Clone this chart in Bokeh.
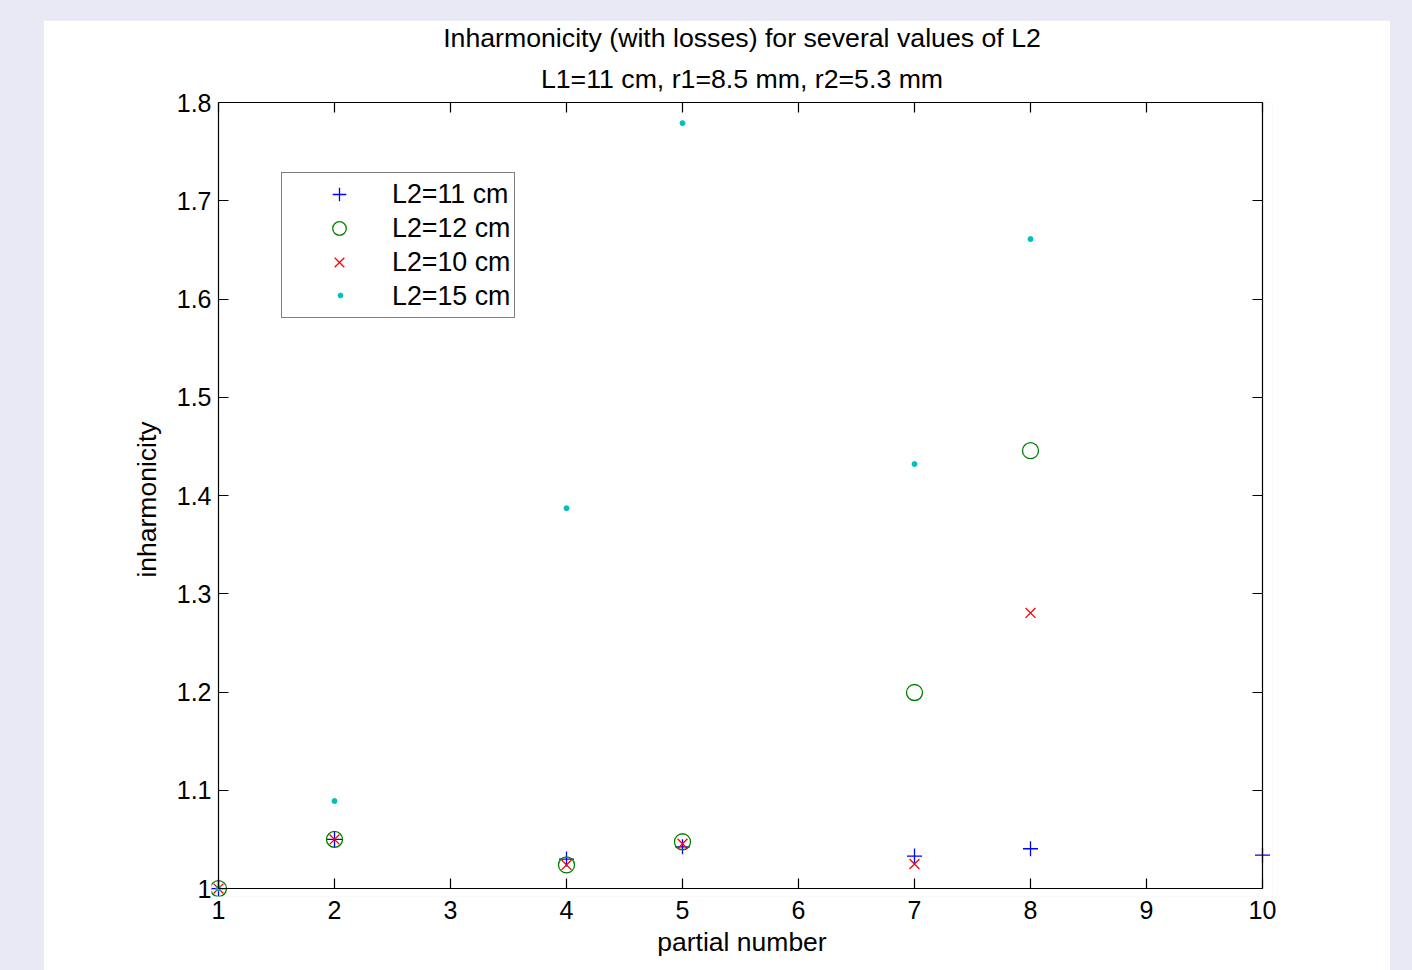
from bokeh.plotting import figure
from bokeh.models import (LinearAxis, FixedTicker, CustomJSTickFormatter, Title,
                          Legend, LegendItem, Range1d)
from bokeh.layouts import column
from bokeh.embed import file_html
from bokeh.resources import INLINE

# ---- data ----
x_l11 = [1, 2, 4, 5, 7, 8, 10]
y_l11 = [1.0, 1.05, 1.030, 1.0425, 1.033, 1.0405, 1.034]

x_l12 = [1, 2, 4, 5, 7, 8]
y_l12 = [1.0, 1.05, 1.024, 1.0476, 1.1995, 1.4456]

x_l10 = [1, 2, 4, 5, 7, 8]
y_l10 = [1.0, 1.05, 1.024, 1.0456, 1.025, 1.2805]

x_l15 = [1, 2, 4, 5, 7, 8]
y_l15 = [1.0, 1.089, 1.387, 1.779, 1.432, 1.661]

x_ticks = [1, 2, 3, 4, 5, 6, 7, 8, 9, 10]
y_ticks = [1.0, 1.1, 1.2, 1.3, 1.4, 1.5, 1.6, 1.7, 1.8]
y_tick_labels = ["1", "1.1", "1.2", "1.3", "1.4", "1.5", "1.6", "1.7", "1.8"]

title_line1 = "Inharmonicity (with losses) for several values of L2"
title_line2 = "L1=11 cm, r1=8.5 mm, r2=5.3 mm"
series_labels = ["L2=11 cm", "L2=12 cm", "L2=10 cm", "L2=15 cm"]

x_lo, x_hi = 1, 10
y_lo, y_hi = 1.0, 1.8

FONT = "Liberation Sans"
TITLE_FS = "26.7px"
LABEL_FS = "26.5px"
LEG_FS = "26.8px"
TICK_FS = "25px"

# small pixel padding so that markers sitting on the box edge are not cut
PAD_L, PAD_R, PAD_B = 7, 10, 8
px_per_x = 1044 / (x_hi - x_lo)
px_per_y = 790 / (y_hi - y_lo)

p = figure(width=1347, height=950,
           x_range=Range1d(x_lo - PAD_L / px_per_x, x_hi + PAD_R / px_per_x),
           y_range=Range1d(y_lo - PAD_B / px_per_y, y_hi),
           output_backend="svg", toolbar_location=None, title=None,
           min_border_left=175 - PAD_L, min_border_right=128 - PAD_R,
           min_border_top=78, min_border_bottom=82 - PAD_B,
           x_axis_location=None, y_axis_location=None)
p.margin = (20, 0, 0, 43)
p.background_fill_color = "white"
p.border_fill_color = "white"
p.outline_line_color = None
p.xgrid.visible = False
p.ygrid.visible = False

fmt = CustomJSTickFormatter(args=dict(labels=y_tick_labels), code="return labels[index];")


def frame_axis(ticks, loc, bounds):
    """box edge with inward ticks, no labels"""
    ax = LinearAxis(ticker=FixedTicker(ticks=ticks), fixed_location=loc, bounds=bounds,
                    formatter=CustomJSTickFormatter(code="return '';"))
    ax.axis_line_color = "black"
    ax.axis_line_width = 1.2
    ax.major_tick_in = 10
    ax.major_tick_out = 0
    ax.major_tick_line_width = 1.2
    ax.major_tick_line_color = "black"
    ax.minor_tick_line_color = None
    ax.major_label_text_font_size = "1px"
    ax.major_label_standoff = 0
    return ax


def label_axis(ticks, label, formatter=None):
    """labels only, placed at the frame edge"""
    kw = dict(ticker=FixedTicker(ticks=ticks), axis_label=label)
    if formatter is not None:
        kw["formatter"] = formatter
    ax = LinearAxis(**kw)
    ax.axis_line_color = None
    ax.major_tick_line_color = None
    ax.minor_tick_line_color = None
    ax.major_tick_in = 0
    ax.major_tick_out = 0
    ax.major_label_text_font = FONT
    ax.major_label_text_font_size = TICK_FS
    ax.major_label_text_color = "black"
    ax.axis_label_text_font = FONT
    ax.axis_label_text_font_style = "normal"
    ax.axis_label_text_font_size = LABEL_FS
    ax.axis_label_text_color = "black"
    return ax


# box edges
p.add_layout(frame_axis(x_ticks, y_lo, (x_lo, x_hi)), "below")
p.add_layout(frame_axis(y_ticks, x_lo, (y_lo, y_hi)), "left")
p.add_layout(frame_axis(x_ticks, None, (x_lo, x_hi)), "above")
p.add_layout(frame_axis(y_ticks, x_hi, (y_lo, y_hi)), "right")

# labels
xb = label_axis(x_ticks, "partial number")
xb.major_label_standoff = 4
xb.axis_label_standoff = 5
p.add_layout(xb, "below")

yl = label_axis(y_ticks, "inharmonicity", fmt)
yl.major_label_standoff = 0
yl.axis_label_standoff = 12
p.add_layout(yl, "left")

# two-line title (second line nearest the box)
p.add_layout(Title(text=title_line2, align="center", text_font=FONT, text_font_size=TITLE_FS,
                   text_font_style="normal", text_color="black", text_line_height=1.0,
                   standoff=18), "above")
p.add_layout(Title(text=title_line1, align="center", text_font=FONT, text_font_size=TITLE_FS,
                   text_font_style="normal", text_color="black", text_line_height=1.0,
                   standoff=0), "above")

r1 = p.scatter(x_l11, y_l11, marker="cross", size=15, line_color="#0000ff",
               fill_color="#0000ff", line_alpha=1.0, line_width=1.3)
r2 = p.scatter(x_l12, y_l12, marker="circle", size=16, line_color="#008000",
               fill_color=None, line_width=1.3)
r3 = p.scatter(x_l10, y_l10, marker="x", size=14, line_color="#ff0000",
               fill_color="#ff0000", line_alpha=1.0, line_width=1.3)
r4 = p.scatter(x_l15, y_l15, marker="circle", size=5, line_color="#00bfbf", fill_color="#00bfbf")

# legend-only renderer (no data) for the text row of the last entry
r4_blank = p.scatter([], [], marker="circle", size=1, line_alpha=0, fill_alpha=0)

# small dot key for the last legend row
legend_dot = Legend(items=[LegendItem(label="\u00a0", renderers=[r4])],
                    location=(69 + PAD_L, 587 + PAD_B), orientation="vertical",
                    label_text_font=FONT, label_text_font_size="8px",
                    glyph_width=106, glyph_height=12, label_height=12, spacing=0, padding=0,
                    label_standoff=0, margin=0, border_line_color=None,
                    background_fill_alpha=0)
p.add_layout(legend_dot, "center")

legend = Legend(items=[LegendItem(label=series_labels[0], renderers=[r1]),
                       LegendItem(label=series_labels[1], renderers=[r2]),
                       LegendItem(label=series_labels[2], renderers=[r3]),
                       LegendItem(label=series_labels[3], renderers=[r4_blank])],
                location=(63 + PAD_L, 570 + PAD_B), orientation="vertical",
                label_text_font=FONT, label_text_font_size=LEG_FS, label_text_color="black",
                glyph_width=106, glyph_height=34, label_height=34, spacing=0, padding=4,
                label_standoff=0, margin=0,
                border_line_color="black", border_line_width=1.2,
                background_fill_alpha=0)
p.add_layout(legend, "center")

root = column(p, width=1412, height=970, styles={"background-color": "#e9e9f6"})

open("out.html", "w").write(file_html(root, INLINE))
